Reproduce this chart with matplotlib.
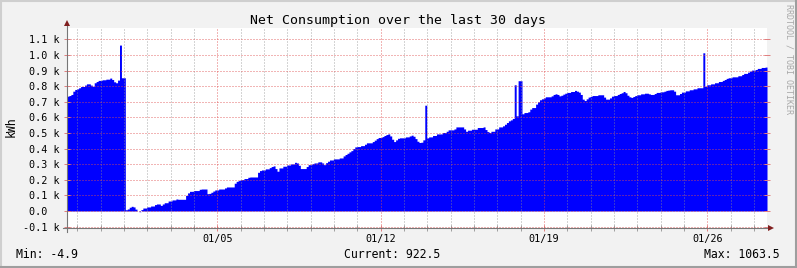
import numpy as np
import pandas as pd
import matplotlib
matplotlib.use("Agg")
import matplotlib.pyplot as plt
import matplotlib.dates as mdates
from matplotlib.lines import Line2D

# Net consumption in kWh, one value every 2 hours, 12 values per day
net = [
    736, 740, 747, 768, 779, 783, 790, 798, 798, 807, 815, 815,
    807, 800, 822, 830, 837, 837, 841, 841, 845, 845, 852, 843,
    828, 822, 839, 1063.5, 854, 854, 8, 13, 24, 30, 26, 12,
    0, -4.9, 9, 19, 19, 26, 26, 32, 32, 41, 45, 45,
    36, 45, 53, 53, 64, 64, 71, 71, 77, 75, 75, 75,
    75, 100, 116, 126, 126, 131, 131, 131, 139, 141, 141, 141,
    111, 113, 120, 128, 135, 135, 141, 141, 141, 148, 154, 154,
    154, 154, 178, 190, 195, 201, 201, 208, 208, 216, 218, 218,
    218, 218, 248, 259, 263, 263, 270, 270, 278, 285, 289, 272,
    255, 276, 276, 287, 287, 295, 295, 302, 302, 312, 308, 293,
    272, 272, 272, 285, 297, 297, 304, 308, 308, 315, 315, 308,
    297, 310, 319, 327, 327, 334, 334, 334, 340, 340, 353, 362,
    370, 379, 387, 400, 411, 413, 413, 419, 419, 428, 437, 437,
    437, 445, 454, 464, 471, 471, 477, 484, 490, 494, 481, 460,
    445, 456, 466, 469, 469, 469, 475, 475, 481, 486, 479, 464,
    447, 439, 441, 456, 678, 469, 475, 475, 484, 484, 494, 494,
    494, 503, 503, 511, 520, 520, 520, 526, 539, 539, 539, 539,
    526, 511, 518, 518, 524, 524, 524, 535, 535, 535, 539, 522,
    509, 503, 511, 511, 526, 526, 539, 539, 546, 556, 567, 578,
    584, 593, 809, 610, 835, 835, 623, 631, 631, 636, 653, 663,
    663, 685, 700, 713, 719, 725, 732, 732, 732, 738, 747, 751,
    747, 738, 742, 749, 755, 760, 760, 766, 766, 773, 768, 762,
    747, 717, 708, 719, 730, 734, 740, 740, 740, 745, 745, 745,
    730, 717, 717, 725, 736, 740, 740, 747, 753, 758, 766, 758,
    742, 732, 728, 734, 740, 745, 745, 751, 751, 755, 755, 751,
    747, 747, 753, 760, 760, 764, 764, 768, 773, 775, 777, 777,
    768, 745, 745, 753, 762, 762, 770, 770, 777, 777, 783, 783,
    790, 790, 790, 1014, 800, 809, 809, 815, 815, 822, 822, 830,
    830, 837, 843, 850, 854, 854, 860, 860, 860, 867, 867, 875,
    882, 882, 890, 897, 903, 903, 907, 914, 914, 920, 920, 922.5,
]
start_time = "2024-12-29 13:30"
step_hours = 2
y_ticks = [-100, 0, 100, 200, 300, 400, 500, 600, 700, 800, 900, 1000, 1100]
y_labels = ["-0.1 k", "0.0  ", "0.1 k", "0.2 k", "0.3 k", "0.4 k", "0.5 k",
            "0.6 k", "0.7 k", "0.8 k", "0.9 k", "1.0 k", "1.1 k"]
title = "Net Consumption over the last 30 days"
legend = ["Min: -4.9", "Current: 922.5", "Max: 1063.5"]

mono = "DejaVu Sans Mono"
plt.rcParams["font.family"] = mono

W, H = 797, 268
fig = plt.figure(figsize=(W / 100, H / 100), dpi=100, facecolor="#F2F2F2")
ax = fig.add_axes([67 / W, (H - 228) / H, 700 / W, 200 / H])
ax.set_facecolor("white")

# step area, one sample every 2 hours
edges = pd.Timestamp(start_time) + pd.to_timedelta(np.arange(len(net) + 1) * step_hours, unit="h")
x = mdates.date2num(edges.to_pydatetime())
y = np.append(net, net[-1])
ax.fill_between(x, y, 0, step="post", color="#0000FF", lw=0, antialiased=False, zorder=1)

ax.set_xlim(x[0], x[-1])
ax.set_ylim(-109, 1173)

ax.set_yticks(y_ticks)
ax.set_yticklabels(y_labels)
ax.xaxis.set_major_locator(mdates.DayLocator(bymonthday=[5, 12, 19, 26]))
ax.xaxis.set_minor_locator(mdates.DayLocator())
ax.xaxis.set_major_formatter(mdates.DateFormatter("%m/%d"))

# rrdtool style dotted grid drawn over the area
ax.set_axisbelow(False)
dots = (0, (1, 1))
ax.grid(which="major", axis="both", color="#DE4F4F", alpha=0.42, lw=1.0, ls=dots,
        antialiased=False)
ax.grid(which="minor", axis="x", color="#8F8F8F", alpha=0.38, lw=1.0, ls=dots,
        antialiased=False)

ax.tick_params(axis="y", which="major", direction="inout", length=4, width=0.72,
               color="#E08080", left=True, right=True, labelright=False,
               labelsize=7.3, pad=3.5)
ax.tick_params(axis="x", which="major", direction="inout", length=4, width=0.72,
               color="#E08080", labelsize=7.3, pad=2.5)
ax.tick_params(axis="x", which="minor", direction="inout", length=4, width=0.72,
               color="#A0A0A0")
for s in ax.spines.values():
    s.set_visible(False)

# axis lines with arrows
ax.plot([-0.006, 1.003], [0, 0], transform=ax.transAxes, color="#777777", lw=0.8,
        clip_on=False, zorder=4)
ax.plot([0, 0], [-0.018, 1.02], transform=ax.transAxes, color="#777777", lw=0.8,
        clip_on=False, zorder=4)
ax.plot([1.0055], [0], marker=">", ms=4.5, color="#801F1F", mew=0,
        transform=ax.transAxes, clip_on=False, zorder=5)
ax.plot([0], [1.025], marker="^", ms=4.5, color="#801F1F", mew=0,
        transform=ax.transAxes, clip_on=False, zorder=5)

# texts
fig.text(0.5, (H - 24) / H, title, ha="center", va="baseline", fontsize=9.5)
fig.text(11 / W, (H - 127) / H, "kWh", rotation=90, ha="center", va="center", fontsize=8.3)
fig.text(788.5 / W, (H - 4.5) / H, "RRDTOOL / TOBI OETIKER", rotation=270,
         ha="center", va="top", fontsize=6, color="#A8A8A8")
fig.text(16 / W, (H - 258.3) / H, legend[0], ha="left", va="baseline", fontsize=8.3)
fig.text(392 / W, (H - 258.3) / H, legend[1], ha="center", va="baseline", fontsize=8.3)
fig.text(780 / W, (H - 258.3) / H, legend[2], ha="right", va="baseline", fontsize=8.3)

# shaded frame
fig.add_artist(Line2D([0, 1], [1 - 1 / H, 1 - 1 / H], transform=fig.transFigure, color="#CFCFCF", lw=1.5))
fig.add_artist(Line2D([1 / W, 1 / W], [0, 1], transform=fig.transFigure, color="#CFCFCF", lw=1.5))
fig.add_artist(Line2D([0, 1], [1 / H, 1 / H], transform=fig.transFigure, color="#9E9E9E", lw=1.5))
fig.add_artist(Line2D([1 - 1 / W, 1 - 1 / W], [0, 1], transform=fig.transFigure, color="#9E9E9E", lw=1.5))

fig.savefig("out.png", dpi=100, facecolor=fig.get_facecolor())
